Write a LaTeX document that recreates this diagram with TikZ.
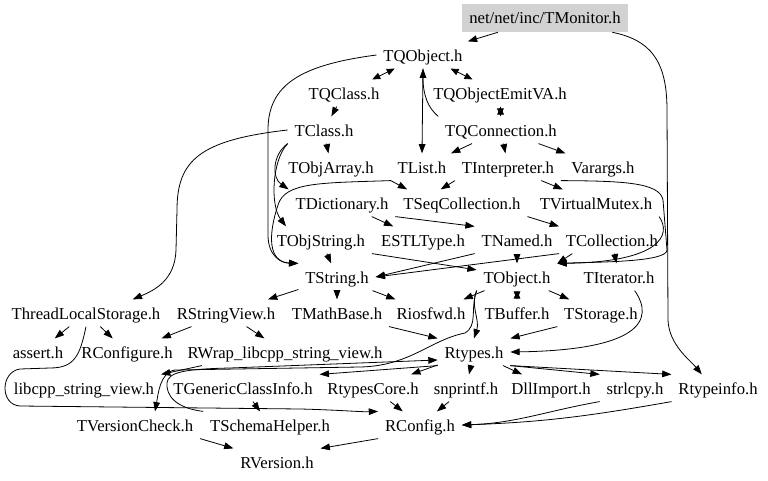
\documentclass[tikz,border=0pt]{standalone}
\usepackage{fontspec}
\setmainfont{Liberation Serif}
\usetikzlibrary{arrows.meta}
\begin{document}
\begin{tikzpicture}[x=0.75pt, y=-0.75pt, every node/.style={font=\fontsize{12.5}{14}\selectfont},
  f/.style={inner xsep=5pt, inner ysep=4pt, text height=11pt, text depth=1pt},
  dep/.style={line width=0.6pt, -{Triangle[length=7pt,width=5pt]}},
  bi/.style={line width=0.6pt, {Triangle[length=6pt,width=5pt]}-{Triangle[length=6pt,width=5pt]}}]
\useasboundingbox (0,0) rectangle (768,481);
\node[fill=gray!35, minimum width=124.5pt, minimum height=21pt, inner sep=0pt] (mon) at (545,18) {net/net/inc/TMonitor.h};
\node[f] (qobj) at (423,55) {TQObject.h};
\node[f] (qcls) at (344,93) {TQClass.h};
\node[f] (emit) at (500,93) {TQObjectEmitVA.h};
\node[f] (cls) at (324,130) {TClass.h};
\node[f] (conn) at (501,130) {TQConnection.h};
\node[f] (oarr) at (331,167) {TObjArray.h};
\node[f] (list) at (422,167) {TList.h};
\node[f] (intp) at (508,167) {TInterpreter.h};
\node[f] (varg) at (603,167) {Varargs.h};
\node[f] (dict) at (342,203) {TDictionary.h};
\node[f] (seqc) at (462,203) {TSeqCollection.h};
\node[f] (vmut) at (596,203) {TVirtualMutex.h};
\node[f] (ostr) at (321,240) {TObjString.h};
\node[f] (estl) at (423,240) {ESTLType.h};
\node[f] (named) at (517,240) {TNamed.h};
\node[f] (coll) at (612,240) {TCollection.h};
\node[f] (str) at (337,277) {TString.h};
\node[f] (obj) at (517,277) {TObject.h};
\node[f] (iter) at (619,277) {TIterator.h};
\node[f] (tls) at (86,313) {ThreadLocalStorage.h};
\node[f] (sview) at (226,313) {RStringView.h};
\node[f] (mbase) at (337,313) {TMathBase.h};
\node[f] (iosf) at (431,313) {Riosfwd.h};
\node[f] (buf) at (517,313) {TBuffer.h};
\node[f] (stor) at (601,313) {TStorage.h};
\node[f] (asrt) at (38,352) {assert.h};
\node[f] (rcfg) at (127,352) {RConfigure.h};
\node[f] (wrap) at (285,352) {RWrap\_libcpp\_string\_view.h};
\node[f] (rtypes) at (474,352) {Rtypes.h};
\node[f] (libsv) at (84,388) {libcpp\_string\_view.h};
\node[f] (gci) at (243,388) {TGenericClassInfo.h};
\node[f] (rcore) at (373,388) {RtypesCore.h};
\node[f] (snpr) at (466,388) {snprintf.h};
\node[f] (dll) at (551,388) {DllImport.h};
\node[f] (strl) at (635,388) {strlcpy.h};
\node[f] (rinfo) at (718,388) {Rtypeinfo.h};
\node[f] (vchk) at (135,425) {TVersionCheck.h};
\node[f] (schem) at (270,425) {TSchemaHelper.h};
\node[f] (config) at (420,425) {RConfig.h};
\node[f] (ver) at (277,462) {RVersion.h};
% top rows
\draw[dep] (mon) -- (qobj);
\draw[dep] ([xshift=-12pt]mon.south east) .. controls (650,40) and (667,60) .. (667,110) -- (668,320) .. controls (669,345) and (690,360) .. (rinfo.140);
\draw[bi] (qobj) -- (qcls); \draw[bi] (qobj) -- (emit); \draw[bi] (emit) -- (conn);
\draw[dep] (conn.north west) .. controls (428,108) and (423,95) .. (qobj.south);
\draw[dep] (qobj.south) -- (list.north); \draw[dep] (qcls) -- (cls);
\draw[dep] (conn) -- (list); \draw[dep] (conn) -- (intp); \draw[dep] (conn) -- (varg);
\draw[dep] (cls) -- (oarr);
\draw[dep] (cls.west) .. controls (200,140) and (177,160) .. (177,210) -- (176,250) .. controls (175,280) and (155,290) .. ([xshift=35pt]tls.north);
\draw[dep] (cls.south west) .. controls (272,155) and (272,178) .. (dict.north west);
\draw[dep] (cls.south west) .. controls (272,160) and (270,205) .. ([xshift=12pt]ostr.north west);
\draw[dep] (qobj.west) .. controls (300,65) and (268,85) .. (268,130) -- (268,235) .. controls (268,255) and (280,263) .. (str.north west);
\draw[dep] (list.south west) .. controls (320,183) and (285,182) .. (278,205) .. controls (268,235) and (268,262) .. (str.north west);
\draw[dep] (list.south west) -- ([xshift=8pt]seqc.north west);
\draw[dep] (intp.south west) -- ([xshift=-16pt]seqc.north);
\draw[dep] (intp) -- (vmut);
\draw[dep] (intp.south east) .. controls (620,181) and (660,182) .. (663,200) -- (667,250) .. controls (667,262) and (600,262) .. (obj.north east);
\draw[dep] (vmut.south east) .. controls (672,235) and (660,262) .. (obj.north east);
% middle rows
\draw[dep] (dict) -- (estl); \draw[dep] (dict.south east) -- (named.north west);
\draw[dep] (seqc.south east) -- (coll.north west);
\draw[dep] (ostr) -- (str); \draw[dep] (ostr.south east) -- (obj.170);
\draw[dep] (named) -- (obj); \draw[dep] (named.south west) -- (str.east);
\draw[dep] (coll.south west) -- (str.east); \draw[dep] ([xshift=10pt]coll.south west) -- (obj.north east);
\draw[dep] (coll) -- (iter);
\draw[dep] (str) -- (sview); \draw[dep] (str) -- (mbase); \draw[dep] (str) -- (iosf);
\draw[dep] (obj) -- (iosf); \draw[bi] (obj) -- (buf); \draw[dep] (obj) -- (stor);
\draw[dep] (obj.south west) .. controls (470,305) and (480,320) .. (rtypes.north);
\draw[dep] (obj.south west) .. controls (470,310) and (478,325) .. (465,333) .. controls (430,340) and (410,366) .. (360,367) -- (175,370) .. controls (160,372) and (158,395) .. ([xshift=15pt]vchk.north);
\draw[dep] (mbase.south east) -- (rtypes.north west);
\draw[dep] (stor.south west) -- (rtypes.north east);
\draw[dep] ([xshift=-20pt]iter.south east) .. controls (655,320) and (640,350) .. (rtypes.east);
% lower rows
\draw[dep] (tls) -- (asrt); \draw[dep] (tls) -- (rcfg);
\draw[dep] (tls.south) .. controls (80,355) and (75,368) .. (50,368) -- (20,369) .. controls (0,372) and (0,405) .. (20,406) -- (300,409) .. controls (340,410) and (360,412) .. (config.north west);
\draw[dep] (sview) -- (rcfg); \draw[dep] (sview) -- (wrap);
\draw[dep] ([xshift=16pt]wrap.south west) -- (libsv.north east);
\draw[dep] (schem.north west) .. controls (175,408) and (166,395) .. (167,383) .. controls (168,372) and (185,369) .. (230,368) -- ([yshift=-6pt]rtypes.west);
\draw[dep] (rtypes.south west) -- (gci.north east); \draw[dep] (rtypes) -- (rcore);
\draw[dep] (rtypes) -- (snpr); \draw[dep] (rtypes) -- (dll);
\draw[dep] (rtypes.south east) -- (strl.north west); \draw[dep] (rtypes.south east) -- (rinfo.north west);
\draw[dep] (gci) -- (schem);
\draw[dep] (rcore) -- (config); \draw[dep] (snpr) -- (config);
\draw[dep] (strl.south west) to[out=190,in=2] (config.east);
\draw[dep] (rinfo.south west) to[out=190,in=2] (config.east);
\draw[dep] (config.south west) -- (ver.north east); \draw[dep] (vchk.south east) -- (ver.north west);
\end{tikzpicture}
\end{document}
